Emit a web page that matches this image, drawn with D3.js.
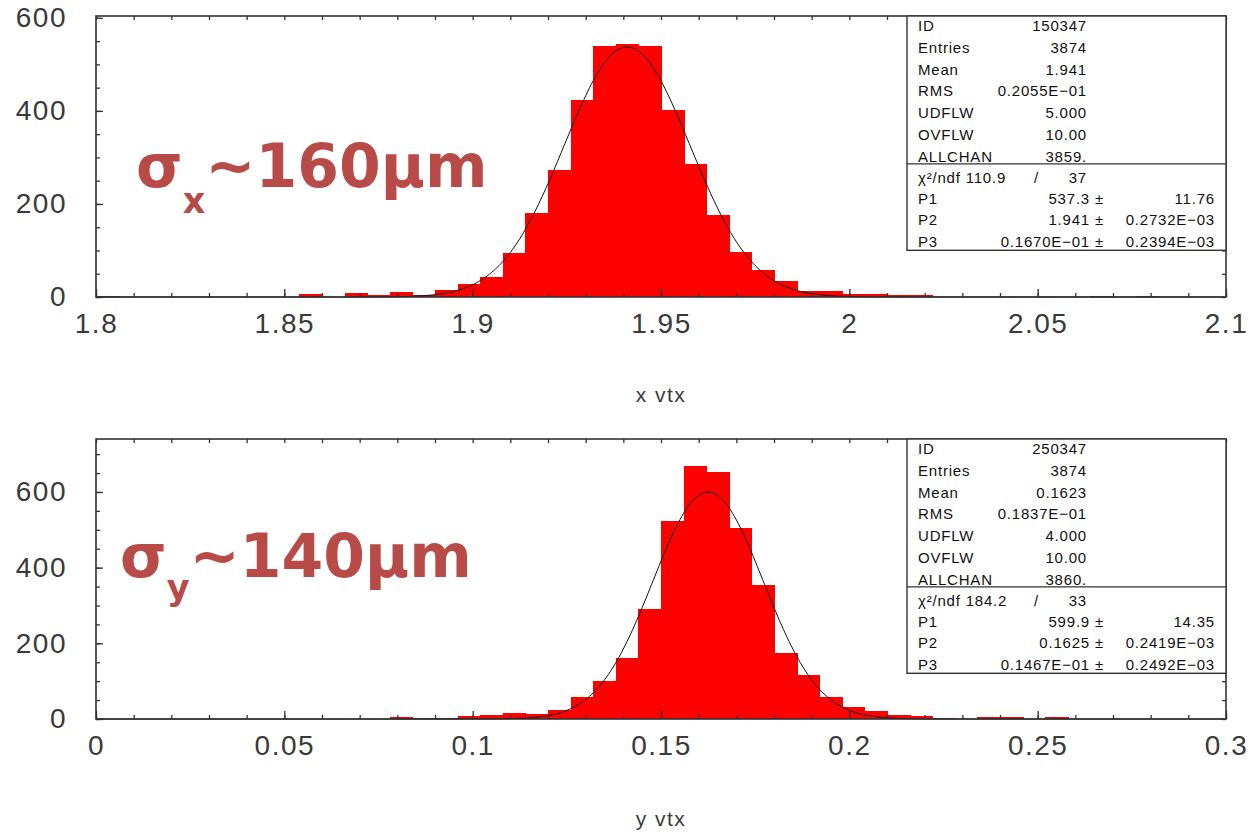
<!DOCTYPE html>
<html>
<head>
<meta charset="utf-8">
<script src="https://cdn.jsdelivr.net/npm/d3@7"></script>
<style>
  body { margin: 0; background: #fff; }
  svg { display: block; }
</style>
</head>
<body>
<script>
// Histogram contents, 50 bins each
var xvtxCounts = [2, 0, 0, 0, 0, 0, 0, 1, 0, 6,
                  1, 9, 4, 11, 4, 16, 29, 44, 94, 180,
                  273, 424, 540, 544, 540, 402, 285, 176, 97, 58,
                  35, 13, 13, 6, 6, 4, 4, 1, 1, 1,
                  0, 0, 0, 0, 3, 0, 3, 0, 0, 0];
var yvtxCounts = [0, 0, 0, 0, 0, 0, 0, 0, 0, 0,
                  0, 0, 0, 4, 3, 3, 8, 10, 15, 14,
                  24, 57, 100, 162, 290, 523, 669, 653, 505, 354,
                  175, 116, 57, 33, 20, 11, 8, 3, 1, 4,
                  4, 0, 5, 0, 0, 0, 0, 0, 0, 0];

// histogram ranges [low, high]
var xvtxRange = [1.8, 2.1];
var yvtxRange = [0, 0.3];

// gaussian fit parameters P1, P2, P3 as printed in the boxes
var xvtxFit = [537.3, 1.941, 0.0167];
var yvtxFit = [599.9, 0.1625, 0.01467];

var yTicks = [0, 200, 400, 600];

// stats box texts
var xvtxStats = [["ID", "150347"], ["Entries", "3874"], ["Mean", "1.941"], ["RMS", "0.2055E\u221201"],
                 ["UDFLW", "5.000"], ["OVFLW", "10.00"], ["ALLCHAN", "3859."]];
var xvtxChi = ["110.9", "37"];
var xvtxPars = [["P1", "537.3 \u00b1", "11.76"], ["P2", "1.941 \u00b1", "0.2732E\u221203"],
                ["P3", "0.1670E\u221201 \u00b1", "0.2394E\u221203"]];

var yvtxStats = [["ID", "250347"], ["Entries", "3874"], ["Mean", "0.1623"], ["RMS", "0.1837E\u221201"],
                 ["UDFLW", "4.000"], ["OVFLW", "10.00"], ["ALLCHAN", "3860."]];
var yvtxChi = ["184.2", "33"];
var yvtxPars = [["P1", "599.9 \u00b1", "14.35"], ["P2", "0.1625 \u00b1", "0.2419E\u221203"],
                ["P3", "0.1467E\u221201 \u00b1", "0.2492E\u221203"]];

var W = 1253, H = 832;
var ink = "#333";
var svg = d3.select("body").append("svg")
    .attr("width", W)
    .attr("height", H);

function drawPanel(p) {
  var x = d3.scaleLinear().domain(p.range).range([p.left, p.right]);
  var y = d3.scaleLinear().domain([0, p.ymax]).range([p.bottom, p.top]);
  var nb = p.counts.length;
  var bw = (p.range[1] - p.range[0]) / nb;
  var g = svg.append("g");

  // bars
  g.selectAll("rect.bin")
    .data(p.counts)
    .enter().append("rect")
      .attr("class", "bin")
      .attr("x", function(d, i) { return x(p.range[0] + i * bw); })
      .attr("width", function(d, i) { return x(p.range[0] + (i + 1) * bw) - x(p.range[0] + i * bw) + 1; })
      .attr("y", function(d) { return y(d); })
      .attr("height", function(d) { return y(0) - y(d); })
      .attr("fill", "#ff0000")
      .attr("shape-rendering", "crispEdges");

  // fit curve from the printed parameters
  var f = p.fit;
  var xs = d3.range(p.range[0], p.range[1], (p.range[1] - p.range[0]) / 600);
  g.append("path")
    .datum(xs)
    .attr("fill", "none")
    .attr("stroke", "#111")
    .attr("stroke-width", 1)
    .attr("d", d3.line()
      .x(function(d) { return x(d); })
      .y(function(d) { return y(f[0] * Math.exp(-0.5 * Math.pow((d - f[1]) / f[2], 2))); }));

  // ticks, all pointing inwards
  var minorX = d3.range(0, 31).map(function(i) { return +(p.range[0] + i * 0.01).toFixed(3); });
  var majorX = d3.range(0, 7).map(function(i) { return +(p.range[0] + i * 0.05).toFixed(3); });
  var minorY = d3.range(0, p.ymax, 50);

  g.append("g").attr("transform", "translate(0," + p.bottom + ")")
    .call(d3.axisBottom(x).tickValues(minorX).tickSizeInner(-4).tickSizeOuter(0).tickFormat(""));
  g.append("g").attr("transform", "translate(0," + p.top + ")")
    .call(d3.axisTop(x).tickValues(minorX).tickSizeInner(-4).tickSizeOuter(0).tickFormat(""));
  g.append("g").attr("transform", "translate(" + p.left + ",0)")
    .call(d3.axisLeft(y).tickValues(minorY).tickSizeInner(-4).tickSizeOuter(0).tickFormat(""));
  g.append("g").attr("transform", "translate(" + p.right + ",0)")
    .call(d3.axisRight(y).tickValues(minorY).tickSizeInner(-4).tickSizeOuter(0).tickFormat(""));

  g.append("g").attr("transform", "translate(0," + p.bottom + ")")
    .call(d3.axisBottom(x).tickValues(majorX).tickSizeInner(-8).tickSizeOuter(0).tickPadding(16)
      .tickFormat(function(d) { return String(+d.toFixed(3)); }));
  g.append("g").attr("transform", "translate(" + p.left + ",0)")
    .call(d3.axisLeft(y).tickValues(yTicks).tickSizeInner(-7).tickSizeOuter(0).tickPadding(29));

  g.selectAll(".domain").remove();
  g.selectAll(".tick line").attr("stroke", ink).attr("stroke-width", 1.3);
  g.selectAll(".tick text")
    .attr("fill", "#3a3a3a")
    .style("font-family", "'Liberation Sans', Arial, sans-serif")
    .style("font-size", "28px")
    .style("letter-spacing", "1.5px");

  // frame
  g.append("rect")
    .attr("x", p.left).attr("y", p.top)
    .attr("width", p.right - p.left).attr("height", p.bottom - p.top)
    .attr("fill", "none").attr("stroke", ink).attr("stroke-width", 1.6);

  // axis title
  g.append("text")
    .attr("x", (p.left + p.right) / 2)
    .attr("y", p.titleY)
    .attr("text-anchor", "middle")
    .attr("fill", "#3a3a3a")
    .style("font-family", "'Liberation Sans', Arial, sans-serif")
    .style("font-size", "21px")
    .style("letter-spacing", "1.5px")
    .text(p.title);

  // stats box
  var bx = 907, rowH = 21.9, parH = 21.3;
  var divY = p.top + 16.5 + 6 * rowH;
  var boxB = divY + 13.5 + 3 * parH + 9;
  var box = g.append("g")
    .style("font-family", "'Liberation Sans', Arial, sans-serif")
    .style("font-size", "15px")
    .style("letter-spacing", "0.8px")
    .attr("fill", "#111");
  box.append("rect")
    .attr("x", bx).attr("y", p.top)
    .attr("width", p.right - bx).attr("height", boxB - p.top)
    .attr("fill", "#fff").attr("stroke", ink).attr("stroke-width", 1.4);
  box.append("line")
    .attr("x1", bx).attr("x2", p.right).attr("y1", divY).attr("y2", divY)
    .attr("stroke", ink).attr("stroke-width", 1.4);

  p.stats.forEach(function(r, i) {
    var ry = p.top + 9.5 + i * rowH;
    box.append("text").attr("x", 918).attr("y", ry).attr("dy", "0.35em").text(r[0]);
    box.append("text").attr("x", 1087).attr("y", ry).attr("dy", "0.35em")
      .attr("text-anchor", "end").text(r[1]);
  });

  var cy = divY + 13.5;
  box.append("text").attr("x", 918).attr("y", cy).attr("dy", "0.35em")
    .text("\u03c7\u00b2/ndf " + p.chi[0]);
  box.append("text").attr("x", 1034).attr("y", cy).attr("dy", "0.35em").text("/");
  box.append("text").attr("x", 1087).attr("y", cy).attr("dy", "0.35em")
    .attr("text-anchor", "end").text(p.chi[1]);

  p.pars.forEach(function(r, i) {
    var ry = cy + (i + 1) * parH;
    box.append("text").attr("x", 918).attr("y", ry).attr("dy", "0.35em").text(r[0]);
    box.append("text").attr("x", 1104).attr("y", ry).attr("dy", "0.35em")
      .attr("text-anchor", "end").text(r[1]);
    box.append("text").attr("x", 1215).attr("y", ry).attr("dy", "0.35em")
      .attr("text-anchor", "end").text(r[2]);
  });

  // big resolution label
  var lab = svg.append("text")
    .attr("x", p.labX).attr("y", p.labY)
    .attr("fill", "#b84a48")
    .style("font-family", "'DejaVu Sans', sans-serif")
    .style("font-weight", "bold")
    .style("font-size", "60px");
  lab.append("tspan").text("\u03c3");
  lab.append("tspan").attr("dy", p.subDy).style("font-size", "35px").text(p.sub);
  lab.append("tspan").attr("dy", -p.subDy).text("~" + p.res);
}

drawPanel({
  counts: xvtxCounts, range: xvtxRange, fit: xvtxFit,
  left: 96, right: 1226, top: 16, bottom: 297, ymax: 604,
  title: "x vtx", titleY: 402,
  stats: xvtxStats, chi: xvtxChi, pars: xvtxPars,
  labX: 136, labY: 187, sub: "x", subDy: 26, res: "160\u03bcm"
});

drawPanel({
  counts: yvtxCounts, range: yvtxRange, fit: yvtxFit,
  left: 96, right: 1226, top: 439, bottom: 719, ymax: 740,
  title: "y vtx", titleY: 826,
  stats: yvtxStats, chi: yvtxChi, pars: yvtxPars,
  labX: 120, labY: 577, sub: "y", subDy: 23, res: "140\u03bcm"
});
</script>
</body>
</html>
